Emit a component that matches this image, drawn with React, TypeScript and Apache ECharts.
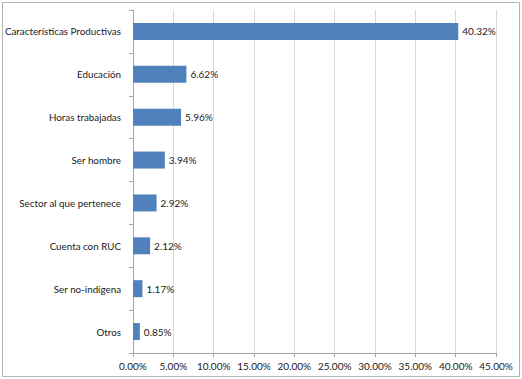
import React, { useEffect, useRef } from "react";
import * as echarts from "echarts";

const categories = [
  "Características Productivas",
  "Educación",
  "Horas trabajadas",
  "Ser hombre",
  "Sector al que pertenece",
  "Cuenta con RUC",
  "Ser no-indígena",
  "Otros",
];
const values = [40.32, 6.62, 5.96, 3.94, 2.92, 2.12, 1.17, 0.85];
const xMin = 0;
const xMax = 45;
const xStep = 5;

export default function App() {
  const ref = useRef<HTMLDivElement>(null);
  useEffect(() => {
    if (!ref.current) return;
    const chart = echarts.init(ref.current, null, { renderer: "svg" });
    const font = "Lato, 'Open Sans', sans-serif";
    chart.setOption({
      animation: false,
      backgroundColor: "#ffffff",
      grid: {
        left: 133,
        right: 26,
        top: 10,
        bottom: 26,
        containLabel: false,
        outerBoundsMode: "none",
      },
      graphic: [
        {
          type: "rect",
          shape: { x: 2.5, y: 2.5, width: 517, height: 374 },
          style: { fill: "none", stroke: "#b3b3b3", lineWidth: 1 },
          silent: true,
        },
      ],
      xAxis: {
        type: "value",
        min: xMin,
        max: xMax,
        interval: xStep,
        axisLine: { show: true, lineStyle: { color: "#a6a6a6" } },
        axisTick: { show: true, length: 4, lineStyle: { color: "#a6a6a6" } },
        splitLine: { show: true, lineStyle: { color: "#d9d9d9" } },
        axisLabel: {
          formatter: (v: number) => v.toFixed(2) + "%",
          color: "#1a1a1a",
          fontSize: 10,
          fontFamily: font,
          margin: 8,
        },
      },
      yAxis: {
        type: "category",
        data: categories,
        inverse: true,
        axisLine: { show: true, lineStyle: { color: "#a6a6a6" } },
        axisTick: { show: true, length: 4, interval: 0, lineStyle: { color: "#a6a6a6" } },
        axisLabel: {
          color: "#1a1a1a",
          fontSize: 9.8,
          fontFamily: font,
          margin: 12,
          interval: 0,
        },
      },
      series: [
        {
          type: "bar",
          data: values,
          barWidth: 17,
          itemStyle: { color: "#4f81bd" },
          label: {
            show: true,
            position: "right",
            distance: 4,
            formatter: (p: any) => p.value.toFixed(2) + "%",
            color: "#1a1a1a",
            fontSize: 10,
            fontFamily: font,
          },
        },
      ],
    });
    return () => chart.dispose();
  }, []);
  return (
    <div
      ref={ref}
      style={{ position: "absolute", left: 0, top: 0, width: 522, height: 379 }}
    />
  );
}
